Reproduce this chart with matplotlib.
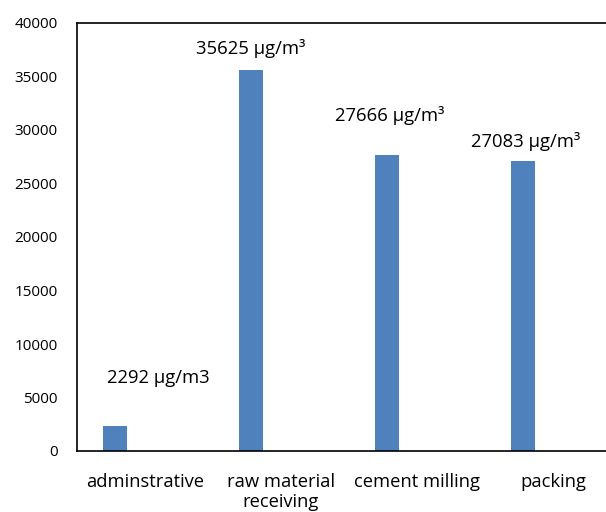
import matplotlib
matplotlib.use("Agg")
import matplotlib.pyplot as plt
import numpy as np

categories = ["adminstrative", "raw material\nreceiving", "cement milling", "packing"]
values = [2292, 35625, 27666, 27083]
labels = ["2292 µg/m3", "35625 µg/m³", "27666 µg/m³", "27083 µg/m³"]
label_y = [6800, 37650, 31400, 28900]
label_dx = [0.32, 0.0, 0.02, 0.02]
yticks = list(range(0, 40001, 5000))

plt.rcParams['font.family'] = ['Open Sans', 'DejaVu Sans']

fig = plt.figure(figsize=(6.06, 5.12), dpi=100)
ax = fig.add_axes([77/606, 61/512, 544/606, 428/512])

x = np.arange(len(categories))
offset = -0.22
ax.bar(x + offset, values, width=0.176, color="#4F81BD")

for xi, ly, lab, dx in zip(x, label_y, labels, label_dx):
    ax.text(xi + offset + dx, ly, lab, ha="center", va="center", fontsize=13.3, color="black")

ax.set_xlim(-0.5, 3.5)
ax.set_ylim(0, 40000)
ax.set_yticks(yticks)
ax.set_yticklabels([str(t) for t in yticks], fontsize=11)
ax.set_xticks(x)
ax.set_xticklabels(categories, fontsize=13.2, linespacing=1.15)
ax.tick_params(axis="both", length=0)
ax.tick_params(axis="y", pad=14)
ax.tick_params(axis="x", pad=16)
for s in ax.spines.values():
    s.set_linewidth(1.2)
    s.set_color("black")

fig.savefig("out.png", dpi=100)
